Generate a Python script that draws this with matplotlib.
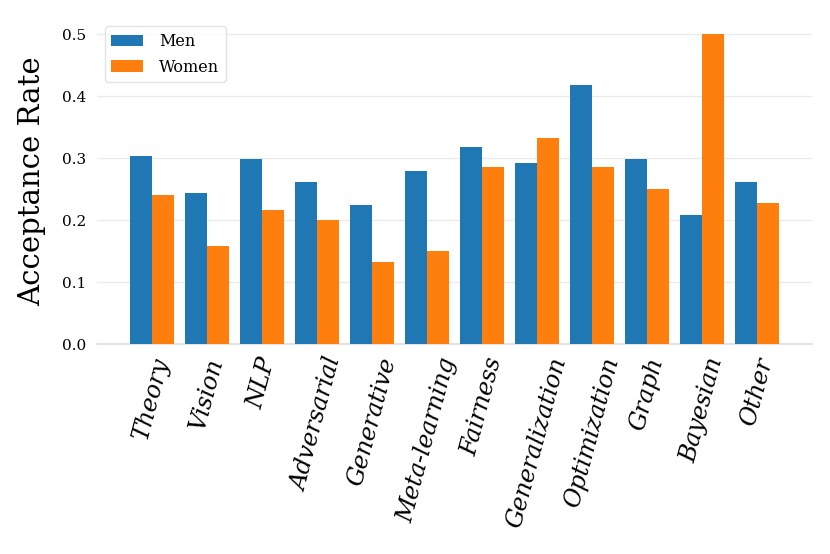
import matplotlib
matplotlib.use("Agg")
import matplotlib.pyplot as plt
import numpy as np

categories = ["Theory", "Vision", "NLP", "Adversarial", "Generative", "Meta-learning",
              "Fairness", "Generalization", "Optimization", "Graph", "Bayesian", "Other"]
men = [0.303, 0.244, 0.298, 0.261, 0.224, 0.279, 0.318, 0.292, 0.418, 0.298, 0.208, 0.261]
women = [0.241, 0.158, 0.216, 0.200, 0.133, 0.150, 0.286, 0.333, 0.286, 0.250, 0.500, 0.228]
yticks = [0.0, 0.1, 0.2, 0.3, 0.4, 0.5]

plt.rcParams['font.family'] = ['DejaVu Serif']

fig = plt.figure(figsize=(8.3, 5.54), dpi=100)
ax = fig.add_axes([97/830, 1-344/554, (812-97)/830, (344-18.5)/554])

x = np.arange(len(categories))
w = 0.4
ax.bar(x - w/2, men, width=w, color='#1f77b4', label='Men', zorder=3)
ax.bar(x + w/2, women, width=w, color='#ff7f0e', label='Women', zorder=3)

ax.set_xlim(-1, 12)
ax.set_ylim(0, 0.525)
ax.set_yticks(yticks)
ax.set_yticklabels([f"{v:.1f}" for v in yticks], fontsize=11)
ax.set_xticks(x)
ax.set_xticklabels(categories, rotation=75, fontsize=17, style='italic')
ax.tick_params(axis='x', length=0, pad=8)
ax.tick_params(axis='y', length=0, pad=8)
ax.yaxis.grid(True, color='#EBEBEB', lw=1, zorder=0)
ax.set_axisbelow(True)
for s in ['top', 'right', 'left']:
    ax.spines[s].set_visible(False)
ax.spines['bottom'].set_color('#DDDDDD')
ax.spines['bottom'].set_linewidth(1.2)
ax.set_ylabel("Acceptance Rate", fontsize=21, labelpad=11)

leg = ax.legend(loc='upper left', fontsize=11.5, frameon=True, fancybox=True,
                handletextpad=1.0, labelspacing=0.55)
leg.get_frame().set_edgecolor('#DDDDDD')

fig.savefig("out.png", dpi=100)
